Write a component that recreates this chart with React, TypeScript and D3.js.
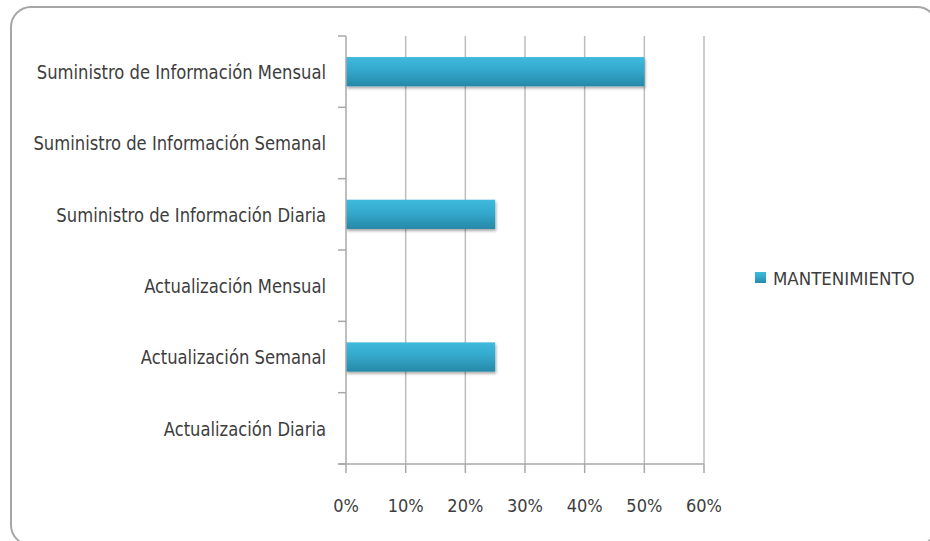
import React from "react";
import * as d3 from "d3";

// Categories listed top to bottom, with their shares for the single series
const categories = [
  "Suministro de Información Mensual",
  "Suministro de Información Semanal",
  "Suministro de Información Diaria",
  "Actualización Mensual",
  "Actualización Semanal",
  "Actualización Diaria",
];
const mantenimiento = [0.5, 0, 0.25, 0, 0.25, 0];
const seriesName = "MANTENIMIENTO";
const xTicks = [0, 0.1, 0.2, 0.3, 0.4, 0.5, 0.6];

const W = 930;
const H = 541;
const plot = { left: 346, right: 704, top: 36, bottom: 464 };
const font = "'Liberation Sans Narrow', 'DejaVu Sans Condensed', 'Noto Sans', sans-serif";
const textColor = "#3d3d3d";
const labelRight = 326;
const labelSqueeze = 0.935;

export default function App() {
  const x = d3.scaleLinear().domain([0, 0.6]).range([plot.left, plot.right]);
  const y = d3
    .scaleBand<string>()
    .domain(categories)
    .range([plot.top, plot.bottom])
    .paddingInner(0.59)
    .paddingOuter(0.295);
  const band = d3.scaleBand<string>().domain(categories).range([plot.top, plot.bottom]);
  const fmt = d3.format(".0%");

  const boundaries = categories.map((c) => band(c)!).concat([plot.bottom]);

  return (
    <svg
      width={W}
      height={H}
      style={{ position: "absolute", left: 0, top: 0, background: "#fff" }}
    >
      <defs>
        <linearGradient id="barFill" x1="0" y1="0" x2="0" y2="1">
          <stop offset="0%" stopColor="#3fbadd" />
          <stop offset="45%" stopColor="#33a9cc" />
          <stop offset="100%" stopColor="#2788a8" />
        </linearGradient>
        <filter id="barShadow" x="-5%" y="-30%" width="110%" height="170%">
          <feGaussianBlur in="SourceAlpha" stdDeviation="1.5" />
          <feOffset dx="1" dy="2" result="b" />
          <feComponentTransfer>
            <feFuncA type="linear" slope="0.35" />
          </feComponentTransfer>
          <feMerge>
            <feMergeNode />
            <feMergeNode in="SourceGraphic" />
          </feMerge>
        </filter>
      </defs>

      {/* rounded chart frame */}
      <rect
        x={11}
        y={7}
        width={926}
        height={538}
        rx={20}
        fill="#fff"
        stroke="#a6a6a6"
        strokeWidth={2}
      />

      {/* vertical gridlines */}
      {xTicks.slice(1).map((t) => (
        <line
          key={"g" + t}
          x1={x(t)}
          x2={x(t)}
          y1={plot.top}
          y2={plot.bottom}
          stroke="#bdbdbd"
          strokeWidth={1.5}
        />
      ))}

      {/* bars */}
      {categories.map((c, i) =>
        mantenimiento[i] > 0 ? (
          <rect
            key={"b" + c}
            x={x(0)}
            y={y(c)}
            width={x(mantenimiento[i]) - x(0)}
            height={y.bandwidth()}
            fill="url(#barFill)"
            filter="url(#barShadow)"
          />
        ) : null
      )}

      {/* y axis with category ticks */}
      <line
        x1={x(0)}
        x2={x(0)}
        y1={plot.top}
        y2={plot.bottom}
        stroke="#a8a8a8"
        strokeWidth={1.5}
      />
      {boundaries.map((b, i) => (
        <line
          key={"yt" + i}
          x1={x(0) - 8}
          x2={x(0)}
          y1={b}
          y2={b}
          stroke="#a8a8a8"
          strokeWidth={1.5}
        />
      ))}

      {/* x axis */}
      <line
        x1={x(0) - 8}
        x2={plot.right}
        y1={plot.bottom}
        y2={plot.bottom}
        stroke="#a8a8a8"
        strokeWidth={1.5}
      />
      {xTicks.map((t) => (
        <g key={"xt" + t}>
          <line
            x1={x(t)}
            x2={x(t)}
            y1={plot.bottom}
            y2={plot.bottom + 9}
            stroke="#a8a8a8"
            strokeWidth={1.5}
          />
          <text
            x={x(t)}
            y={505}
            textAnchor="middle"
            dominantBaseline="central"
            fontFamily={font}
            fontSize={18}
            fill={textColor}
          >
            {fmt(t)}
          </text>
        </g>
      ))}

      {/* category labels, slightly condensed */}
      <g transform={`translate(${labelRight},0) scale(${labelSqueeze},1)`}>
        {categories.map((c) => (
          <text
            key={"l" + c}
            x={0}
            y={band(c)! + band.bandwidth() / 2}
            textAnchor="end"
            dominantBaseline="central"
            fontFamily={font}
            fontSize={19.5}
            fill={textColor}
          >
            {c}
          </text>
        ))}
      </g>

      {/* legend */}
      <rect x={755} y={272} width={11} height={11} fill="url(#barFill)" />
      <text
        x={773}
        y={278}
        dominantBaseline="central"
        fontFamily={font}
        fontSize={18.5}
        fill={textColor}
      >
        {seriesName}
      </text>
    </svg>
  );
}
